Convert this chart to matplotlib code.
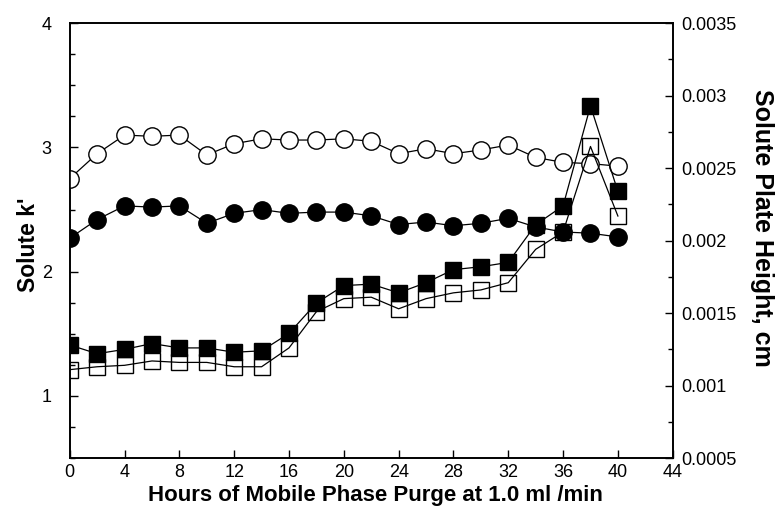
import numpy as np
import matplotlib
matplotlib.use('Agg')
import matplotlib.pyplot as plt
from matplotlib.ticker import MultipleLocator, FuncFormatter

plt.rcParams['font.family'] = ['Liberation Sans', 'DejaVu Sans']

# --- data ---
hours = [0, 2, 4, 6, 8, 10, 12, 14, 16, 18, 20, 22, 24, 26, 28, 30, 32, 34, 36, 38, 40]

# solute k' (left axis)
k_open_circle = [2.75, 2.95, 3.10, 3.09, 3.10, 2.94, 3.03, 3.07, 3.06, 3.06, 3.07,
                 3.05, 2.95, 2.99, 2.95, 2.98, 3.02, 2.92, 2.88, 2.87, 2.85]
k_filled_circle = [2.27, 2.42, 2.53, 2.52, 2.53, 2.39, 2.47, 2.50, 2.47, 2.48, 2.48,
                   2.45, 2.38, 2.40, 2.37, 2.39, 2.43, 2.36, 2.32, 2.31, 2.28]

# solute plate height, cm (right axis)
h_filled_square = [0.00128, 0.00122, 0.00125, 0.00129, 0.00126, 0.00126, 0.00123,
                   0.00124, 0.00136, 0.00157, 0.00169, 0.00170, 0.00164, 0.00171,
                   0.00180, 0.00182, 0.00185, 0.00211, 0.00224, 0.00293, 0.00234]
h_open_square = [0.00111, 0.00113, 0.00114, 0.00117, 0.00116, 0.00116, 0.00113,
                 0.00113, 0.00126, 0.00151, 0.00160, 0.00161, 0.00153, 0.00160,
                 0.00164, 0.00166, 0.00171, 0.00194, 0.00206, 0.00265, 0.00217]

x_ticks = [0, 4, 8, 12, 16, 20, 24, 28, 32, 36, 40, 44]

fig = plt.figure(figsize=(7.75, 5.17), dpi=100)
ax1 = fig.add_axes([0.090, 0.114, 0.778, 0.841])
ax2 = ax1.twinx()

# circles on k' axis
ax1.plot(hours, k_open_circle, color='black', lw=0.9, marker='o', ms=12.5,
         mfc='white', mec='black', mew=1.0, zorder=3)
ax1.plot(hours, k_filled_circle, color='black', lw=0.9, marker='o', ms=12.5,
         mfc='black', mec='black', zorder=3)

# squares on plate height axis
ax2.plot(hours, h_filled_square, color='black', lw=0.9, marker='s', ms=11,
         mfc='black', mec='black', zorder=3)
ax2.plot(hours, h_open_square, color='black', lw=0.9, marker='s', ms=11,
         mfc='none', mec='black', mew=1.0, zorder=4)

ax1.set_xlim(0, 44)
ax1.set_ylim(0.5, 4)
ax2.set_ylim(0.0005, 0.0035)

ax1.set_xticks(x_ticks)
ax1.yaxis.set_major_locator(MultipleLocator(1))
ax1.yaxis.set_minor_locator(MultipleLocator(0.25))
ax2.yaxis.set_major_locator(MultipleLocator(0.0005))
ax2.yaxis.set_minor_locator(MultipleLocator(0.00025))
ax2.yaxis.set_major_formatter(FuncFormatter(lambda v, p: '%g' % round(v, 5)))

ax1.tick_params(axis='y', which='major', direction='in', length=6, width=1,
                labelsize=13, pad=13)
ax1.tick_params(axis='x', which='major', direction='in', length=6, width=1,
                labelsize=13, pad=4, top=False)
ax1.tick_params(axis='y', which='minor', direction='in', length=3.5, width=1)
ax2.tick_params(axis='y', which='major', direction='in', length=6, width=1,
                labelsize=13, pad=6)
ax2.tick_params(axis='y', which='minor', direction='in', length=3.5, width=1)

for sp in ax1.spines.values():
    sp.set_linewidth(1.2)
for sp in ax2.spines.values():
    sp.set_linewidth(1.2)

ax1.set_xlabel('Hours of Mobile Phase Purge at 1.0 ml /min', fontsize=16,
               fontweight='bold', va='center', ha='center')
ax1.xaxis.set_label_coords(0.507, -0.085)
ax1.set_ylabel("Solute k'", fontsize=16.5, fontweight='bold', va='center', ha='center')
ax1.yaxis.set_label_coords(-0.068, 0.49)
ax2.set_ylabel('Solute Plate Height, cm', fontsize=18, fontweight='bold',
               rotation=270, va='center', ha='center')
ax2.yaxis.set_label_coords(1.148, 0.53)

fig.savefig('out.png', dpi=100)
